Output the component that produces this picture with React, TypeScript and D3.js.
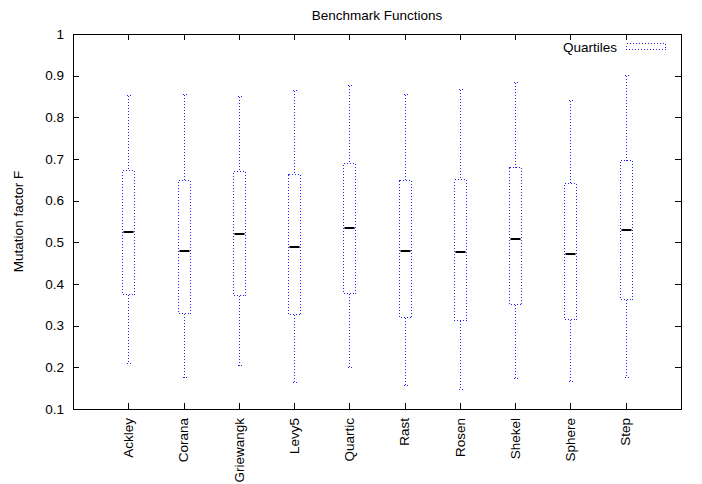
import React, { useEffect, useRef } from "react";
import * as d3 from "d3";

const categories = ["Ackley", "Corana", "Griewangk", "Levy5", "Quartic", "Rast", "Rosen", "Shekel", "Sphere", "Step"];
const whiskerLow = [0.21, 0.177, 0.205, 0.165, 0.201, 0.157, 0.148, 0.174, 0.168, 0.178];
const quartile1 = [0.375, 0.331, 0.373, 0.327, 0.379, 0.321, 0.313, 0.352, 0.317, 0.365];
const medians = [0.524, 0.479, 0.521, 0.488, 0.534, 0.479, 0.476, 0.508, 0.473, 0.529];
const quartile3 = [0.674, 0.65, 0.672, 0.664, 0.691, 0.649, 0.652, 0.682, 0.642, 0.697];
const whiskerHigh = [0.853, 0.856, 0.851, 0.866, 0.878, 0.856, 0.867, 0.884, 0.842, 0.902];
const yTicks = [0.1, 0.2, 0.3, 0.4, 0.5, 0.6, 0.7, 0.8, 0.9, 1];

const W = 702;
const H = 484;
const FONT = "'Liberation Sans', Arial, sans-serif";
const FS = 13.5;
const BLUE = "#2020ff";
const DASH = "1,2";

const App = () => {
  const ref = useRef<SVGSVGElement | null>(null);

  useEffect(() => {
    const svg = d3.select(ref.current);
    svg.selectAll("*").remove();

    const m = { left: 73, right: 681, top: 34, bottom: 409 };
    const x = d3.scaleLinear().domain([0, categories.length + 1]).range([m.left, m.right]);
    const y = d3.scaleLinear().domain([0.1, 1]).range([m.bottom, m.top]);
    const py = (v: number) => Math.round(y(v)) + 0.5;
    const boxW = 12;
    const capW = 4;

    svg.append("rect").attr("width", W).attr("height", H).attr("fill", "#fff");

    // ticks (inward, mirrored)
    const tickLen = 6;
    const g = svg.append("g").attr("stroke", "#000").attr("stroke-width", 1);
    yTicks.forEach((t) => {
      const yy = py(t);
      g.append("line").attr("x1", m.left).attr("x2", m.left + tickLen).attr("y1", yy).attr("y2", yy);
      g.append("line").attr("x1", m.right - tickLen).attr("x2", m.right).attr("y1", yy).attr("y2", yy);
    });
    categories.forEach((_, i) => {
      const xx = Math.round(x(i + 1)) + 0.5;
      g.append("line").attr("x1", xx).attr("x2", xx).attr("y1", m.bottom).attr("y2", m.bottom - tickLen);
      g.append("line").attr("x1", xx).attr("x2", xx).attr("y1", m.top).attr("y2", m.top + tickLen);
    });

    svg
      .append("rect")
      .attr("x", m.left + 0.5)
      .attr("y", m.top + 0.5)
      .attr("width", m.right - m.left)
      .attr("height", m.bottom - m.top)
      .attr("fill", "none")
      .attr("stroke", "#000");

    // y tick labels
    svg
      .selectAll("text.ytick")
      .data(yTicks)
      .enter()
      .append("text")
      .attr("class", "ytick")
      .attr("x", 64)
      .attr("y", (d) => y(d))
      .attr("dy", "0.35em")
      .attr("text-anchor", "end")
      .attr("font-family", FONT)
      .attr("font-size", FS)
      .text((d) => d3.format("")(d));

    // x labels
    svg
      .selectAll("text.xtick")
      .data(categories)
      .enter()
      .append("text")
      .attr("class", "xtick")
      .attr("transform", (_, i) => `translate(${x(i + 1)},418) rotate(-90)`)
      .attr("dy", "0.35em")
      .attr("text-anchor", "end")
      .attr("font-family", FONT)
      .attr("font-size", FS)
      .text((d) => d);

    // title and axis label
    svg
      .append("text")
      .attr("x", (m.left + m.right) / 2)
      .attr("y", 20)
      .attr("text-anchor", "middle")
      .attr("font-family", FONT)
      .attr("font-size", FS)
      .text("Benchmark Functions");

    svg
      .append("text")
      .attr("transform", `translate(18,${(m.top + m.bottom) / 2}) rotate(-90)`)
      .attr("dy", "0.35em")
      .attr("text-anchor", "middle")
      .attr("font-family", FONT)
      .attr("font-size", FS)
      .text("Mutation factor F");

    // boxes
    const boxes = svg
      .append("g")
      .attr("fill", "none")
      .attr("stroke", BLUE)
      .attr("stroke-width", 1)
      .attr("stroke-dasharray", DASH)
      .attr("shape-rendering", "crispEdges");
    categories.forEach((_, i) => {
      const cx = Math.round(x(i + 1)) + 0.5;
      boxes.append("line").attr("x1", cx).attr("x2", cx).attr("y1", py(whiskerHigh[i])).attr("y2", py(quartile3[i]));
      boxes.append("line").attr("x1", cx).attr("x2", cx).attr("y1", py(quartile1[i])).attr("y2", py(whiskerLow[i]));
      boxes.append("line").attr("x1", cx - capW / 2).attr("x2", cx + capW / 2).attr("y1", py(whiskerHigh[i])).attr("y2", py(whiskerHigh[i]));
      boxes.append("line").attr("x1", cx - capW / 2).attr("x2", cx + capW / 2).attr("y1", py(whiskerLow[i])).attr("y2", py(whiskerLow[i]));
      boxes
        .append("rect")
        .attr("x", cx - boxW / 2)
        .attr("y", py(quartile3[i]))
        .attr("width", boxW)
        .attr("height", py(quartile1[i]) - py(quartile3[i]));
    });

    svg
      .append("g")
      .selectAll("line")
      .data(medians)
      .enter()
      .append("line")
      .attr("x1", (_, i) => Math.round(x(i + 1)) - boxW / 2 + 1.5)
      .attr("x2", (_, i) => Math.round(x(i + 1)) + boxW / 2 - 0.5)
      .attr("y1", (d) => Math.round(y(d)))
      .attr("y2", (d) => Math.round(y(d)))
      .attr("stroke", "#000")
      .attr("stroke-width", 2);

    // legend
    svg
      .append("text")
      .attr("x", 617)
      .attr("y", 47)
      .attr("dy", "0.35em")
      .attr("text-anchor", "end")
      .attr("font-family", FONT)
      .attr("font-size", FS)
      .text("Quartiles");
    svg
      .append("rect")
      .attr("x", 626.5)
      .attr("y", 43.5)
      .attr("width", 39)
      .attr("height", 6)
      .attr("fill", "none")
      .attr("stroke", BLUE)
      .attr("stroke-dasharray", DASH)
      .attr("shape-rendering", "crispEdges");
  }, []);

  return <svg ref={ref} width={W} height={H} style={{ position: "absolute", left: 0, top: 0 }} />;
};

export default App;
